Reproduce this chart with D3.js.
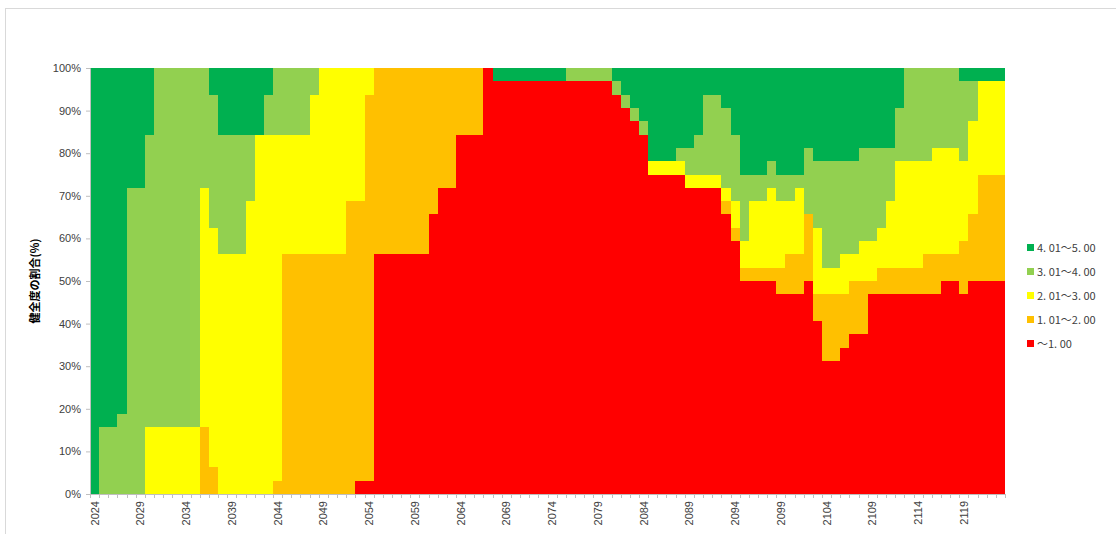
<!DOCTYPE html>
<html><head><meta charset="utf-8">
<script src="https://cdn.jsdelivr.net/npm/d3@7"></script>
<style>html,body{margin:0;padding:0;background:#fff;}svg{display:block;}</style>
</head><body>
<svg id="chart" width="1116" height="534"></svg>
<script>
// Years 2024..2123
const years = ["2024","2025","2026","2027","2028","2029","2030","2031","2032","2033","2034","2035","2036","2037","2038","2039","2040","2041","2042","2043","2044","2045","2046","2047","2048","2049","2050","2051","2052","2053","2054","2055","2056","2057","2058","2059","2060","2061","2062","2063","2064","2065","2066","2067","2068","2069","2070","2071","2072","2073","2074","2075","2076","2077","2078","2079","2080","2081","2082","2083","2084","2085","2086","2087","2088","2089","2090","2091","2092","2093","2094","2095","2096","2097","2098","2099","2100","2101","2102","2103","2104","2105","2106","2107","2108","2109","2110","2111","2112","2113","2114","2115","2116","2117","2118","2119","2120","2121","2122","2123"];
// counts per health class (out of 32 each year)
const s_le1 = [0,0,0,0,0,0,0,0,0,0, 0,0,0,0,0,0,0,0,0,0, 0,0,0,0,0,0,0,0,0,1, 1,18,18,18,18,18,18,21,23,23, 27,27,27,32,31,31,31,31,31,31, 31,31,31,31,31,31,31,30,29,28, 27,24,24,24,24,23,23,23,23,21, 19,16,16,16,16,15,15,15,16,13, 10,10,11,12,12,15,15,15,15,15, 15,15,15,16,16,15,16,16,16,16];
const s_1to2 = [0,0,0,0,0,0,0,0,0,0, 0,0,5,2,0,0,0,0,0,0, 1,18,18,18,18,18,18,18,22,21, 29,14,14,14,14,14,14,11,9,9, 5,5,5,0,0,0,0,0,0,0, 0,0,0,0,0,0,0,0,0,0, 0,0,0,0,0,0,0,0,0,1, 1,1,1,1,1,2,3,3,5,2, 5,5,4,4,4,1,2,2,2,2, 2,3,3,2,2,4,5,8,8,8];
const s_2to3 = [0,0,0,0,0,0,5,5,5,5, 5,5,18,18,18,18,18,22,27,27, 26,9,9,9,12,14,14,14,10,10, 2,0,0,0,0,0,0,0,0,0, 0,0,0,0,0,0,0,0,0,0, 0,0,0,0,0,0,0,0,0,0, 0,1,1,1,1,1,1,1,1,1, 2,2,5,5,6,5,4,5,0,5, 2,2,3,2,3,3,3,5,8,8, 8,7,8,8,8,6,7,7,7,7];
const s_3to4 = [0,5,5,6,23,23,22,27,27,27, 27,27,9,10,9,9,9,5,0,3, 5,5,5,5,2,0,0,0,0,0, 0,0,0,0,0,0,0,0,0,0, 0,0,0,0,0,0,0,0,0,0, 0,0,1,1,1,1,1,1,1,1, 1,0,0,0,1,2,3,6,6,6, 5,5,2,2,2,2,2,1,5,5, 8,8,7,7,7,7,6,4,4,7, 7,7,6,6,6,6,3,0,0,0];
const s_4to5 = [32,27,27,26,9,9,5,0,0,0, 0,0,0,2,5,5,5,5,5,2, 0,0,0,0,0,0,0,0,0,0, 0,0,0,0,0,0,0,0,0,0, 0,0,0,0,1,1,1,1,1,1, 1,1,0,0,0,0,0,1,2,3, 4,7,7,7,6,6,5,2,2,3, 5,8,8,8,7,8,8,8,6,7, 7,7,7,7,6,6,6,6,3,0, 0,0,0,0,0,1,1,1,1,1];
const seriesKeys = ["le1","1to2","2to3","3to4","4to5"];
const seriesLabels = {"4to5":"4. 01～5. 00","3to4":"3. 01～4. 00","2to3":"2. 01～3. 00","1to2":"1. 01～2. 00","le1":"～1. 00"};
const seriesColors = {"4to5":"#00B050","3to4":"#92D050","2to3":"#FFFF00","1to2":"#FFC000","le1":"#FF0000"};
const yTicks = [0,0.1,0.2,0.3,0.4,0.5,0.6,0.7,0.8,0.9,1.0];
const xLabelYears = ["2024","2029","2034","2039","2044","2049","2054","2059","2064","2069","2074","2079","2084","2089","2094","2099","2104","2109","2114","2119"];
const yTitle = "健全度の割合(%)";

const rows = years.map((y,i)=>({year:y, le1:s_le1[i], "1to2":s_1to2[i], "2to3":s_2to3[i], "3to4":s_3to4[i], "4to5":s_4to5[i]}));

const svg = d3.select("#chart");
// outer frame
svg.append("rect").attr("x",5.5).attr("y",8.5).attr("width",1116).attr("height",530)
  .attr("fill","#fff").attr("stroke","#d9d9d9");

const L=90, R=1005, T=68, B=494;
const x = d3.scaleBand().domain(years).range([L,R]).padding(0);
const y = d3.scaleLinear().domain([0,1]).range([B,T]);

const stack = d3.stack().keys(seriesKeys).offset(d3.stackOffsetExpand);
const layers = stack(rows);

const x0 = d => Math.round(x(d.data.year));
const x1 = d => Math.round(x(d.data.year) + x.bandwidth());
const g = svg.append("g").attr("shape-rendering","crispEdges");
layers.forEach(layer=>{
  g.append("g").attr("fill",seriesColors[layer.key])
   .selectAll("rect").data(layer.filter(d=>d[1]-d[0]>0)).join("rect")
   .attr("x",d=>x0(d))
   .attr("width",d=>x1(d)-x0(d))
   .attr("y",d=>Math.round(y(d[1])))
   .attr("height",d=>Math.round(y(d[0]))-Math.round(y(d[1])));
});

// Y axis
const yAxis = d3.axisLeft(y).tickValues(yTicks).tickFormat(d3.format(".0%")).tickSize(4).tickPadding(5);
const ya = svg.append("g").attr("transform",`translate(${L},0)`).call(yAxis);
ya.select(".domain").attr("stroke","#bfbfbf");
ya.selectAll(".tick line").attr("stroke","#bfbfbf");
ya.selectAll("text").attr("font-family","Liberation Sans, Arial, sans-serif").attr("font-size",11).attr("fill","#404040");

// X axis
const xa = svg.append("g").attr("transform",`translate(0,${B})`);
xa.append("line").attr("x1",L).attr("x2",R).attr("y1",0.5).attr("y2",0.5).attr("stroke","#bfbfbf");
xa.selectAll("line.tk").data(years.concat(["end"])).join("line").attr("class","tk")
  .attr("x1",(d,i)=> Math.round(L + i*x.bandwidth())+0.5).attr("x2",(d,i)=> Math.round(L + i*x.bandwidth())+0.5)
  .attr("y1",0).attr("y2",4).attr("stroke","#bfbfbf");
xa.selectAll("text").data(xLabelYears).join("text")
  .attr("transform",d=>`translate(${x(d)+x.bandwidth()/2+4},7) rotate(-90)`)
  .attr("text-anchor","end")
  .attr("font-family","Liberation Sans, Arial, sans-serif").attr("font-size",11).attr("fill","#404040")
  .text(d=>d);

// Y title
svg.append("text").attr("transform","translate(39,281) rotate(-90)")
  .attr("text-anchor","middle").attr("font-family","Noto Sans CJK JP, sans-serif")
  .attr("font-weight","bold").attr("font-size",11).attr("fill","#000").text(yTitle);

// Legend
const legKeys = ["4to5","3to4","2to3","1to2","le1"];
const lg = svg.append("g");
legKeys.forEach((k,i)=>{
  const yy = 248 + i*24;
  lg.append("rect").attr("x",1027).attr("y",yy-4).attr("width",7).attr("height",7).attr("fill",seriesColors[k]);
  lg.append("text").attr("x",1037).attr("y",yy+4).attr("font-family","Noto Sans CJK JP, sans-serif")
    .attr("font-size",11).attr("fill","#404040").text(seriesLabels[k]);
});
</script>
</body></html>
